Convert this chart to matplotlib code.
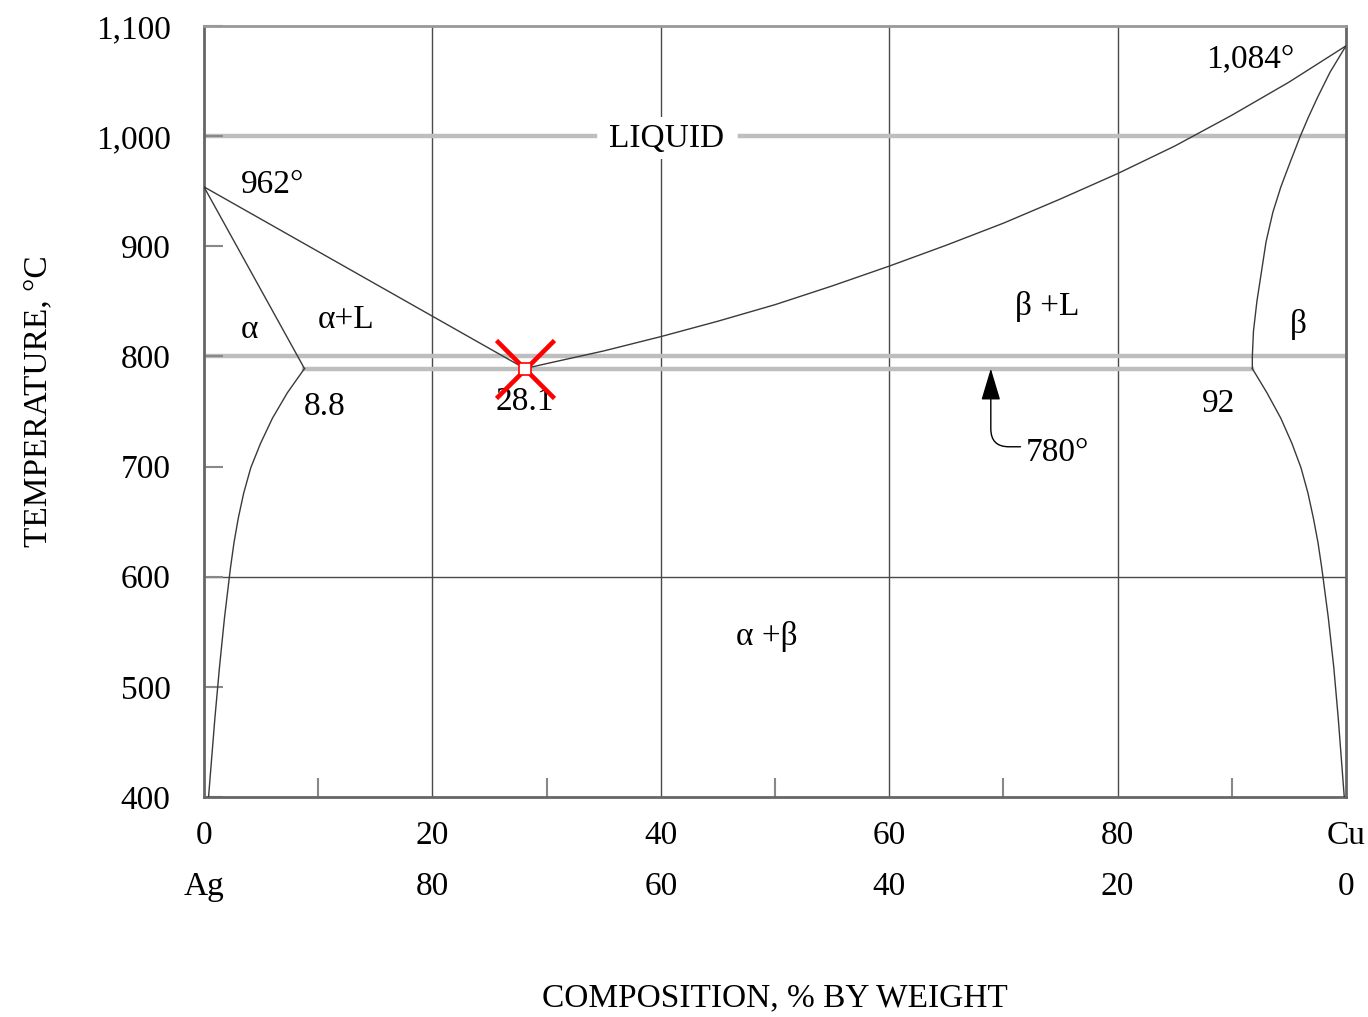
import matplotlib
matplotlib.use('Agg')
import matplotlib.pyplot as plt

#++++++++++++++++++++++++++++++++++++++++++++++
# Ag-Cu phase diagram
#++++++++++++++++++++++++++++++++++++++++++++++
T_Ag_melt = 954      # drawn a bit lower than the 962 label
T_Cu_melt = 1082
T_eutectic = 789     # drawn line (labelled 780)
x_eutectic = 28.1
x_alpha_max = 8.8
x_beta_min = 91.8

# liquidus, Ag side (straight)
liq_left_x = [0, x_eutectic]
liq_left_T = [T_Ag_melt, T_eutectic]

# liquidus, Cu side
liq_right_x = [28.1, 30, 35, 40, 45, 50, 55, 60, 65, 70, 75, 80, 85, 90, 95, 100]
liq_right_T = [789, 793.5, 805, 818, 832, 847, 864, 882, 901, 921, 943, 966, 991, 1019, 1049, 1082]

# alpha solidus (straight)
alpha_sol_x = [0, x_alpha_max]
alpha_sol_T = [T_Ag_melt, T_eutectic]

# alpha solvus
alpha_solv_x = [8.8, 7.3, 6.0, 4.95, 4.1, 3.48, 3.0, 2.63, 2.32, 1.8, 1.36, 0.96, 0.4]
alpha_solv_T = [789, 767, 744, 721, 699, 676, 653, 631, 608, 563, 518, 472, 400]

# beta solidus
beta_sol_x = [91.8, 91.8, 91.9, 92.2, 92.6, 93.0, 93.6, 94.3, 95.1, 96.0, 96.7, 97.5, 98.6, 100]
beta_sol_T = [789, 800, 823, 850, 877, 904, 931, 954, 976, 1000, 1017, 1035, 1058, 1082]

# beta solvus
beta_solv_x = [91.8, 93.08, 94.29, 95.27, 96.06, 96.67, 97.15, 97.55, 97.88, 98.45, 98.93, 99.32, 99.85]
beta_solv_T = [789, 767, 744, 721, 699, 676, 653, 631, 608, 563, 518, 472, 400]

# axes ticks
yticks = [400, 500, 600, 700, 800, 900, 1000, 1100]
ytick_labels = ['400', '500', '600', '700', '800', '900', '1,000', '1,100']
xticks = [0, 20, 40, 60, 80, 100]
xtick_labels = ['0', '20', '40', '60', '80', 'Cu']
xtick_labels2 = ['Ag', '80', '60', '40', '20', '0']
xminor = [10, 30, 50, 70, 90]

# region / point labels: (text, x, T)
labels = [
    ('962°', 6.0, 956),
    ('α', 4.0, 824),
    ('α+L', 12.4, 833),
    ('8.8', 10.6, 754),
    ('28.1', 28.1, 759),
    ('β +L', 73.8, 845),
    ('β', 95.8, 829),
    ('92', 88.8, 757),
    ('1,084°', 91.6, 1070),
    ('α +β', 49.3, 546),
]
liquid_label = ('LIQUID', 40.5, 998)
liquid_gap = (34.2, 46.9)

# arrow pointing at eutectic line
arrow_text = ('780°', 74.7, 713)
arrow_tip = (68.9, 789)
arrow_tail = (71.5, 718)

#++++++++++++++++++++++++++++++++++++++++++++++
# Styles
#++++++++++++++++++++++++++++++++++++++++++++++
plt.rcParams['font.family'] = ['Liberation Serif', 'DejaVu Serif']
FS = 24
dark = '#4a4a4a'
curve = '#3a3a3a'
light = '#bebebe'

fig = plt.figure(figsize=(13.68, 10.17), dpi=100)
ax = fig.add_axes([0.1491, 0.2163, 0.8348, 0.7581])
ax.set_xlim(0, 100)
ax.set_ylim(400, 1100)

# grid lines
for x in [20, 40, 60, 80]:
    ax.axvline(x, color=dark, lw=1.0, zorder=1)
ax.axhline(600, color=dark, lw=1.0, zorder=1)
ax.axhline(800, color=light, lw=3.2, zorder=1)
ax.plot([0, liquid_gap[0]], [1000, 1000], color=light, lw=3.2, zorder=1)
ax.plot([liquid_gap[1], 100], [1000, 1000], color=light, lw=3.2, zorder=1)
ax.plot([x_alpha_max, x_beta_min], [T_eutectic, T_eutectic], color=light, lw=3.2, zorder=1)

# phase boundaries
for xs, ts in [(liq_left_x, liq_left_T), (liq_right_x, liq_right_T),
               (alpha_sol_x, alpha_sol_T), (alpha_solv_x, alpha_solv_T),
               (beta_sol_x, beta_sol_T), (beta_solv_x, beta_solv_T)]:
    ax.plot(xs, ts, color=curve, lw=1.0, zorder=3)

# labels
for t, x, y in labels:
    ax.text(x, y, t, fontsize=FS, ha='center', va='center', zorder=4)
ax.text(liquid_label[1], liquid_label[2], liquid_label[0], fontsize=FS, ha='center', va='center',
        bbox=dict(facecolor='white', edgecolor='none', pad=4), zorder=4)
ax.text(arrow_text[1], arrow_text[2], arrow_text[0], fontsize=FS, ha='center', va='center', zorder=4)
ax.annotate('', xy=arrow_tip, xytext=arrow_tail,
            arrowprops=dict(arrowstyle='-|>,head_length=1.0,head_width=0.3', mutation_scale=20,
                            connectionstyle='angle,angleA=180,angleB=90,rad=18',
                            color='black', lw=1.0, shrinkA=0, shrinkB=0), zorder=4)

# red eutectic marker
ax.plot([x_eutectic], [T_eutectic], marker='x', ms=42, mew=3.3, color='red', ls='none', zorder=6)
ax.plot([x_eutectic], [T_eutectic], marker='s', ms=8, mew=1.2, mfc='white', mec='red', ls='none', zorder=7)

# ticks
ax.set_yticks(yticks)
ax.set_yticklabels(ytick_labels, fontsize=FS)
ax.tick_params(axis='y', direction='in', length=14, width=1.5, color='#888888', pad=24)
ax.set_xticks(xticks)
ax.set_xticklabels(xtick_labels, fontsize=FS)
ax.set_xticks(xminor, minor=True)
ax.tick_params(axis='x', which='major', length=0, pad=17)
ax.tick_params(axis='x', which='minor', direction='in', length=14, width=1.5, color='#888888')
for x, t in zip(xticks, xtick_labels2):
    ax.text(x, -0.117, t, fontsize=FS, ha='center', va='center', transform=ax.get_xaxis_transform())

for s in ax.spines.values():
    s.set_color('#666666')
    s.set_linewidth(2.0)
ax.spines['top'].set_color('#999999')

fig.text(38/1368, 1-401/1017, 'TEMPERATURE, °C', fontsize=FS, rotation=90, ha='center', va='center')
fig.text(775/1368, 1-998/1017, 'COMPOSITION, % BY WEIGHT', fontsize=FS, ha='center', va='center')

fig.savefig('out.png', dpi=100)
